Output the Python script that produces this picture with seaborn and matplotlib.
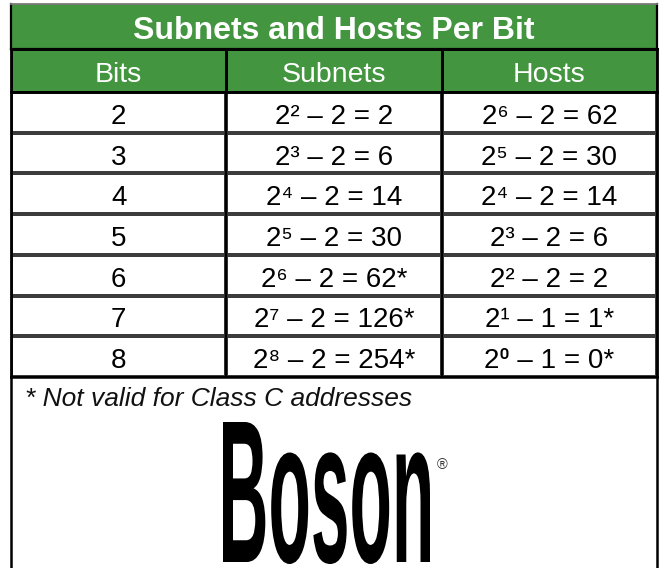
import numpy as np
import pandas as pd
import matplotlib
matplotlib.use("Agg")
import matplotlib.pyplot as plt
import seaborn as sns
from matplotlib.colors import ListedColormap
from matplotlib import patheffects as pe
from matplotlib.transforms import Affine2D, ScaledTranslation
from matplotlib.textpath import text_to_path, TextToPath
from matplotlib.path import Path
from matplotlib.font_manager import FontProperties

# ---------------- data ----------------
title = "Subnets and Hosts Per Bit"
columns = ["Bits", "Subnets", "Hosts"]
bits = [2, 3, 4, 5, 6, 7, 8]
subnet_exp = [2, 3, 4, 5, 6, 7, 8]
subnet_sub = [2, 2, 2, 2, 2, 2, 2]
subnet_vals = [2, 6, 14, 30, 62, 126, 254]
subnet_invalid = [False, False, False, False, True, True, True]
host_exp = [6, 5, 4, 3, 2, 1, 0]
host_sub = [2, 2, 2, 2, 2, 1, 1]
host_vals = [62, 30, 14, 6, 2, 1, 0]
host_invalid = [False, False, False, False, False, True, True]
footnote = "* Not valid for Class C addresses"
brand = "Boson"

SUP = str.maketrans("0123456789", "⁰¹²³⁴⁵⁶⁷⁸⁹")


def expr(e, s, v, bad):
    return f"2{str(e).translate(SUP)} – {s} = {v}{'*' if bad else ''}"


rows = [[str(b), expr(se, ss, sv, si), expr(he, hs, hv, hi)]
        for b, se, ss, sv, si, he, hs, hv, hi in zip(
            bits, subnet_exp, subnet_sub, subnet_vals, subnet_invalid,
            host_exp, host_sub, host_vals, host_invalid)]
labels = np.array(rows, dtype=object)

# ---------------- style ----------------
sns.set_theme(style="white")
FAM = ["Liberation Sans", "Roboto", "Noto Sans", "DejaVu Sans"]
plt.rcParams["font.family"] = FAM

W, H = 659, 568
fig = plt.figure(figsize=(W / 100, H / 100), dpi=100)
fig.patch.set_facecolor("white")

GREEN = "#43953f"
L, R = 11, 657


def px_axes(x0, y0, x1, y1):
    return fig.add_axes([x0 / W, 1 - y1 / H, (x1 - x0) / W, (y1 - y0) / H])


def borders(ax, color="black", lw=1.6, top=None, bottom=True):
    for sp in ax.spines.values():
        sp.set_visible(True)
        sp.set_color(color)
        sp.set_linewidth(lw)
    if top is not None:
        ax.spines["top"].set_color(top[0])
        ax.spines["top"].set_linewidth(top[1])
    if not bottom:
        ax.spines["bottom"].set_visible(False)


def nudge(ax, dy_px):
    off = ScaledTranslation(0, dy_px / fig.dpi, fig.dpi_scale_trans)
    for t in ax.texts:
        t.set_transform(t.get_transform() + off)


# title band
ax_t = px_axes(L, 4, R, 49)
sns.heatmap(pd.DataFrame([[0]]), cmap=ListedColormap([GREEN]), cbar=False,
            annot=np.array([[title]], dtype=object), fmt="",
            annot_kws=dict(color="white", fontsize=23, fontweight="bold",
                           family=FAM),
            xticklabels=False, yticklabels=False, ax=ax_t)
borders(ax_t, top=("#7a7a7a", 1.3))
nudge(ax_t, -4.5)

# header row
ax_h = px_axes(L, 49, R, 92)
sns.heatmap(pd.DataFrame([np.zeros(len(columns))], columns=columns),
            cmap=ListedColormap([GREEN]), cbar=False,
            annot=np.array([columns], dtype=object), fmt="",
            annot_kws=dict(color="white", fontsize=20.5, family=FAM),
            linewidths=2, linecolor="black",
            xticklabels=False, yticklabels=False, ax=ax_h)
borders(ax_h, lw=2)
nudge(ax_h, -4.5)

# data rows
ax_d = px_axes(L, 92, R, 377)
sns.heatmap(pd.DataFrame(np.zeros(labels.shape), columns=columns),
            cmap=ListedColormap(["white"]), cbar=False,
            annot=labels, fmt="",
            annot_kws=dict(color="black", fontsize=20, family=FAM),
            linewidths=1.5, linecolor="#3c3c3c",
            xticklabels=False, yticklabels=False, ax=ax_d)
for c in range(1, len(columns)):
    ax_d.axvline(c, color="black", lw=1.7)
borders(ax_d, lw=2)
nudge(ax_d, -4.5)

# footer
ax_f = px_axes(L, 377, R, 580)
sns.heatmap(pd.DataFrame([[0]]), cmap=ListedColormap(["white"]), cbar=False,
            xticklabels=False, yticklabels=False, ax=ax_f)
borders(ax_f, lw=1.8, bottom=False)

fig.text(25 / W, 1 - 406 / H, footnote, fontsize=19, style="italic",
         ha="left", va="baseline", color="#111111", family=FAM)


# ---------------- logo: real text, stretched tall by a path effect ----------------
class Stretch(pe.AbstractPathEffect):
    """Scale the glyph outlines vertically about a pivot height (font units)."""

    def __init__(self, sy, pivot):
        super().__init__()
        self._s = Affine2D().translate(0, -pivot).scale(1, sy).translate(0, pivot)

    def draw_path(self, renderer, gc, tpath, affine, rgbFace=None):
        renderer.draw_path(gc, tpath, self._s + affine, rgbFace)


fp = FontProperties(family="Liberation Sans", weight="bold")
verts, codes = text_to_path.get_text_path(fp, brand)
ext = Path(verts, codes).get_extents()          # in font units
FS = TextToPath.FONT_SCALE
ink_left, ink_right, cap_top, base = 223, 430, 422, 562
fs_px = (ink_right - ink_left) * FS / ext.width
k = fs_px / FS
cap_px = ext.y1 * k
sy = (base - cap_top) / cap_px
base_unstretched = cap_top + cap_px
fp.set_size(fs_px * 72 / fig.dpi)
fig.text((ink_left - ext.x0 * k) / W, 1 - base_unstretched / H, brand,
         fontproperties=fp, ha="left", va="baseline", color="black",
         path_effects=[Stretch(sy, ext.y1)])
fig.text(442 / W, 1 - 465 / H, "®", fontsize=10.5, ha="center", va="center",
         color="#333333", family=FAM)

fig.savefig("out.png", dpi=100, facecolor="white")
